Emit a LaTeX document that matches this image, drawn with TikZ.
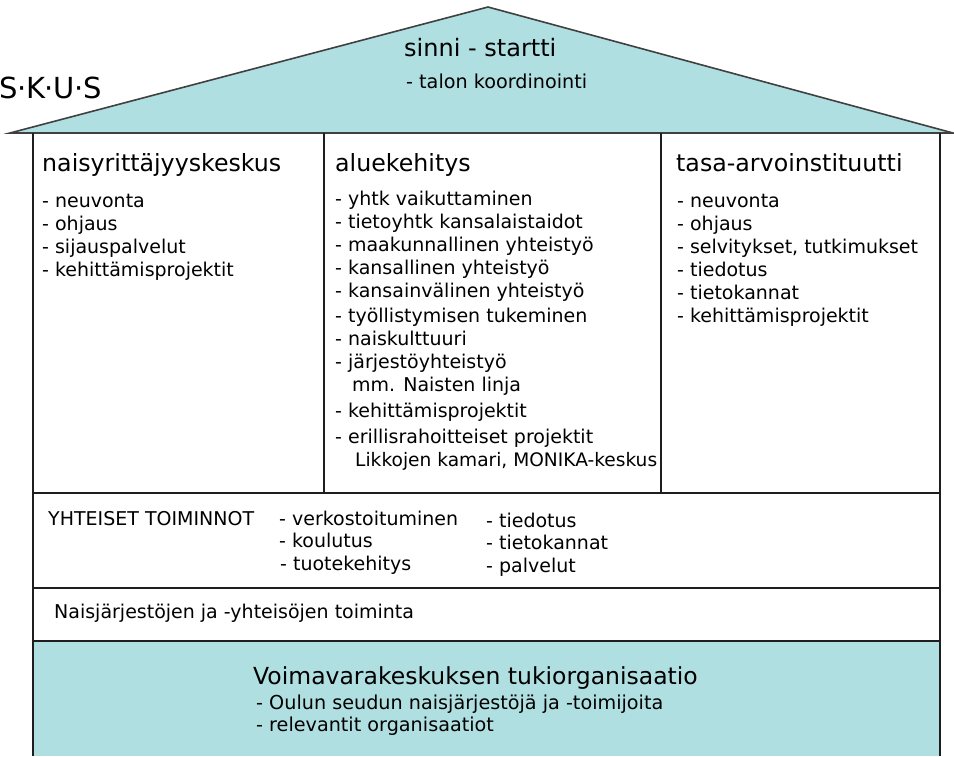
\documentclass[tikz,border=0pt]{standalone}
\usepackage{fontspec}
\setmainfont{DejaVu Sans}
\definecolor{housecyan}{RGB}{176,223,225}
\definecolor{inkline}{RGB}{30,30,30}
\newcommand{\skdot}{\kern-0.4pt·\kern-0.4pt}
\begin{document}
\begin{tikzpicture}[x=1pt,y=-1pt,
  txt/.style={inner sep=0pt, anchor=base west, text=black},
  head/.style={txt, font=\fontsize{23.7}{27}\selectfont},
  item/.style={txt, font=\fontsize{19}{22}\selectfont},
  longitem/.style={txt, font=\fontsize{18.6}{22}\selectfont},
  subitem/.style={txt, font=\fontsize{19.2}{23}\selectfont},
  bigtitle/.style={txt, font=\fontsize{24}{28}\selectfont},
  basetitle/.style={txt, font=\fontsize{23.5}{28}\selectfont},
  wall/.style={draw=inkline, line width=1.4pt},
  roofline/.style={draw=black!75, line width=1.6pt, line join=miter}]
\useasboundingbox (0,0) rectangle (954,756);
% coordinates
\coordinate (rl) at (10,133);
\coordinate (apex) at (488,7);
\coordinate (rr) at (953,133);
\coordinate (wlt) at (33,133);
\coordinate (wlb) at (33,756);
\coordinate (wrt) at (940,133);
\coordinate (wrb) at (940,756);
\coordinate (d1t) at (324,133);
\coordinate (d1b) at (324,493);
\coordinate (d2t) at (661,133);
\coordinate (d2b) at (661,493);
\coordinate (h1l) at (33,493);
\coordinate (h1r) at (940,493);
\coordinate (h2l) at (33,588);
\coordinate (h2r) at (940,588);
\coordinate (h3l) at (33,641);
\coordinate (h3r) at (940,641);
% bottom cyan block
\fill[housecyan] (h3l) rectangle (wrb);
% roof
\filldraw[fill=housecyan, roofline] (rl) -- (apex) -- (rr) -- cycle;
% walls and dividers
\draw[wall] (wlt) -- (wlb);
\draw[wall] (wrt) -- (wrb);
\draw[wall] (d1t) -- (d1b);
\draw[wall] (d2t) -- (d2b);
\draw[wall] (h1l) -- (h1r);
\draw[wall] (h2l) -- (h2r);
\draw[wall] (h3l) -- (h3r);
% label at left
\node[txt, font=\fontsize{29}{32}\selectfont] (skus) at (-1,98) {S\skdot K\skdot U\skdot S};
% roof texts
\node[bigtitle] (sinni) at (404,56) {sinni - startti};
\node[subitem] (talon) at (406,88) {- talon koordinointi};
% left column
\node[head] (c1h) at (42,171) {naisyrittäjyyskeskus};
\node[item] (c1a) at (42,207) {- neuvonta};
\node[item] (c1b) at (42,230) {- ohjaus};
\node[item] (c1c) at (42,253) {- sijauspalvelut};
\node[item] (c1d) at (42,276) {- kehittämisprojektit};
% middle column
\node[head] (c2h) at (335,171) {aluekehitys};
\node[item] (c2a) at (335,205) {- yhtk vaikuttaminen};
\node[item] (c2b) at (335,228) {- tietoyhtk kansalaistaidot};
\node[item] (c2c) at (335,251) {- maakunnallinen yhteistyö};
\node[item] (c2d) at (335,274) {- kansallinen yhteistyö};
\node[item] (c2e) at (335,297) {- kansainvälinen yhteistyö};
\node[item] (c2f) at (335,322) {- työllistymisen tukeminen};
\node[item] (c2g) at (335,345) {- naiskulttuuri};
\node[item] (c2h2) at (335,368) {- järjestöyhteistyö};
\node[item] (c2i) at (352,391) {mm. Naisten linja};
\node[item] (c2j) at (335,417) {- kehittämisprojektit};
\node[item] (c2k) at (335,443) {- erillisrahoitteiset projektit};
\node[longitem] (c2l) at (355,466) {Likkojen kamari, MONIKA-keskus};
% right column
\node[head] (c3h) at (676,171) {tasa-arvoinstituutti};
\node[item] (c3a) at (677,207) {- neuvonta};
\node[item] (c3b) at (677,230) {- ohjaus};
\node[item] (c3c) at (677,253) {- selvitykset, tutkimukset};
\node[item] (c3d) at (677,276) {- tiedotus};
\node[item] (c3e) at (677,299) {- tietokannat};
\node[item] (c3f) at (677,322) {- kehittämisprojektit};
% common functions
\node[item] (yht) at (48,525) {YHTEISET TOIMINNOT};
\node[item] (ya) at (279,525) {- verkostoituminen};
\node[item] (yb) at (279,547) {- koulutus};
\node[item] (yc) at (280,570) {- tuotekehitys};
\node[item] (yd) at (486,527) {- tiedotus};
\node[item] (ye) at (486,549) {- tietokannat};
\node[item] (yf) at (486,572) {- palvelut};
% organisations
\node[item] (nais) at (54,618) {Naisjärjestöjen ja -yhteisöjen toiminta};
% support organisation
\node[basetitle] (voima) at (253,684) {Voimavarakeskuksen tukiorganisaatio};
\node[subitem] (oulu) at (256,709) {- Oulun seudun naisjärjestöjä ja -toimijoita};
\node[subitem] (rel) at (256,731) {- relevantit organisaatiot};
\end{tikzpicture}
\end{document}
